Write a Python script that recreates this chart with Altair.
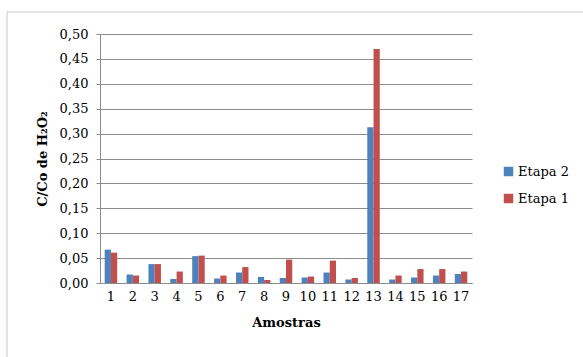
import altair as alt
import pandas as pd

# Sample numbers and the two measurement stages
amostras = list(range(1, 18))
etapa_2 = [0.067, 0.017, 0.038, 0.008, 0.054, 0.009, 0.021, 0.012, 0.010,
           0.011, 0.021, 0.007, 0.313, 0.007, 0.011, 0.015, 0.018]
etapa_1 = [0.061, 0.015, 0.038, 0.023, 0.055, 0.015, 0.032, 0.006, 0.047,
           0.013, 0.045, 0.010, 0.470, 0.015, 0.028, 0.028, 0.023]
series = ["Etapa 2", "Etapa 1"]
colors = ["#4F81BD", "#C0504D"]
y_ticks = [round(i * 0.05, 2) for i in range(11)]

rows = []
for a, v2, v1 in zip(amostras, etapa_2, etapa_1):
    rows.append({"Amostra": a, "Etapa": series[0], "Valor": v2})
    rows.append({"Amostra": a, "Etapa": series[1], "Valor": v1})
df = pd.DataFrame(rows)

FONT = "DejaVu Serif"
GRID = "#8c8c8c"
INK = "#000000"

bars = alt.Chart(df).mark_bar().encode(
    x=alt.X(
        "Amostra:O",
        title="Amostras",
        scale=alt.Scale(paddingInner=1.5 / 3.5, paddingOuter=0.75 / 3.5),
        axis=alt.Axis(
            labelAngle=0, labelFont=FONT, labelFontSize=13, labelPadding=7,
            ticks=False, domainColor=GRID, titleFont=FONT, titleFontSize=13,
            titleFontWeight="bold", titlePadding=13, labelColor=INK,
            titleColor=INK,
        ),
    ),
    xOffset=alt.XOffset("Etapa:N", sort=series),
    y=alt.Y(
        "Valor:Q",
        title="C/Co de H₂O₂",
        scale=alt.Scale(domain=[0, 0.5], nice=False),
        axis=alt.Axis(
            values=y_ticks, format=".2f",
            labelExpr="replace(datum.label, '.', ',')",
            labelFont=FONT, labelFontSize=13, gridColor=GRID,
            domainColor=GRID, tickColor=GRID, tickSize=4, labelPadding=8,
            titleFont=FONT, titleFontSize=13, titleFontWeight="bold",
            titlePadding=10, labelColor=INK, titleColor=INK,
        ),
    ),
    color=alt.Color(
        "Etapa:N",
        sort=series,
        scale=alt.Scale(domain=series, range=colors),
        legend=alt.Legend(
            title=None, orient="none", legendX=402, legendY=131,
            symbolType="square", symbolSize=90, symbolStrokeWidth=0,
            labelFont=FONT, labelFontSize=13, labelColor=INK,
            rowPadding=13, labelOffset=3,
        ),
    ),
)

# Light outer frame around the whole chart
frame = alt.Chart(pd.DataFrame({"f": [0]})).mark_rect(
    fill=None, stroke="#c8c8c8", strokeWidth=1
).encode(
    x=alt.value(-93), x2=alt.value(520), y=alt.value(-22), y2=alt.value(400)
)

chart = alt.layer(frame, bars).properties(
    width=372,
    height=249,
    autosize=alt.AutoSizeParams(type="none"),
    padding={"left": 100, "top": 34, "right": 111, "bottom": 74},
).configure(
    font=FONT,
).configure_legend(
    labelFont=FONT,
).configure_view(
    stroke=None,
)

chart.save("out.html", embed_options={"renderer": "svg", "actions": False})
